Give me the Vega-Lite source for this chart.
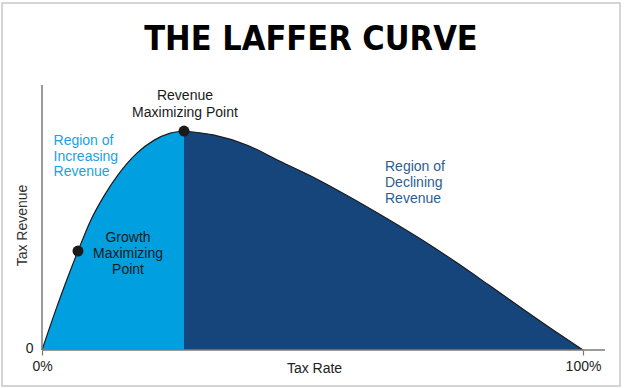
{
  "$schema": "https://vega.github.io/schema/vega-lite/v6.json",
  "width": 618,
  "height": 383,
  "autosize": {"type": "none"},
  "padding": {"left": 2, "top": 3, "right": 4, "bottom": 2},
  "background": "#ffffff",
  "title": {
    "text": "THE LAFFER CURVE",
    "font": "DejaVu Sans Condensed, sans-serif",
    "fontSize": 34,
    "fontWeight": "bold",
    "color": "#000000",
    "anchor": "middle",
    "frame": "group",
    "baseline": "alphabetic",
    "offset": -81
  },
  "config": {
    "view": {"stroke": "#c8c8c8", "strokeWidth": 1.5},
    "font": "Liberation Sans"
  },
  "datasets": {
    "curve": [
      {"rate": 0, "revenue": 0, "region": "Increasing"},
      {"rate": 2.5, "revenue": 18, "region": "Increasing"},
      {"rate": 4.5, "revenue": 31.5, "region": "Increasing"},
      {"rate": 6.65, "revenue": 45.2, "region": "Increasing"},
      {"rate": 8.87, "revenue": 58.5, "region": "Increasing"},
      {"rate": 11.5, "revenue": 70.5, "region": "Increasing"},
      {"rate": 14.05, "revenue": 80.0, "region": "Increasing"},
      {"rate": 17.5, "revenue": 89.8, "region": "Increasing"},
      {"rate": 20.6, "revenue": 95.6, "region": "Increasing"},
      {"rate": 23.7, "revenue": 99.0, "region": "Increasing"},
      {"rate": 26.25, "revenue": 100, "region": "Increasing"},
      {"rate": 26.25, "revenue": 100, "region": "Declining"},
      {"rate": 31.66, "revenue": 98.2, "region": "Declining"},
      {"rate": 37.84, "revenue": 93.6, "region": "Declining"},
      {"rate": 44.0, "revenue": 86.2, "region": "Declining"},
      {"rate": 50.15, "revenue": 78.9, "region": "Declining"},
      {"rate": 56.3, "revenue": 70.7, "region": "Declining"},
      {"rate": 62.5, "revenue": 61.9, "region": "Declining"},
      {"rate": 70.5, "revenue": 49.9, "region": "Declining"},
      {"rate": 76.7, "revenue": 39.8, "region": "Declining"},
      {"rate": 82.8, "revenue": 29.3, "region": "Declining"},
      {"rate": 89.0, "revenue": 18.5, "region": "Declining"},
      {"rate": 95.1, "revenue": 8.1, "region": "Declining"},
      {"rate": 100, "revenue": 0, "region": "Declining"}
    ],
    "points": [
      {"rate": 6.65, "revenue": 45.2, "name": "Growth Maximizing Point"},
      {"rate": 26.25, "revenue": 100, "name": "Revenue Maximizing Point"}
    ],
    "axislines": [
      {"rate": 0, "revenue": 0, "rate2": 104.07, "revenue2": 0},
      {"rate": 0, "revenue": 0, "rate2": 0, "revenue2": 121}
    ]
  },
  "layer": [
    {
      "data": {"name": "curve"},
      "mark": {"type": "area", "interpolate": "monotone"},
      "encoding": {
        "x": {
          "field": "rate",
          "type": "quantitative",
          "scale": {"domain": [-7.394, 106.84], "nice": false, "zero": false},
          "axis": {
            "orient": "bottom",
            "offset": -36,
            "values": [0, 100],
            "labelExpr": "datum.value + '%'",
            "domain": false,
            "grid": false,
            "ticks": true,
            "tickSize": 5,
            "tickColor": "#777777",
            "tickWidth": 1.2,
            "labelFontSize": 14,
            "labelColor": "#222222",
            "labelPadding": 4,
            "labelFlush": false,
            "labelOverlap": false,
            "labelBound": false,
            "title": "Tax Rate",
            "titleFontSize": 14,
            "titleFontWeight": "normal",
            "titleColor": "#222222",
            "titleX": 312,
            "titleY": 22,
            "titleBaseline": "alphabetic",
            "titleAlign": "center"
          }
        },
        "y": {
          "field": "revenue",
          "type": "quantitative",
          "stack": null,
          "scale": {"domain": [-16.44, 158.45], "nice": false, "zero": false},
          "axis": {
            "orient": "left",
            "offset": -40,
            "values": [0],
            "domain": false,
            "grid": false,
            "ticks": false,
            "labelFontSize": 14,
            "labelColor": "#222222",
            "labelPadding": 9,
            "labelOffset": -1,
            "title": "Tax Revenue",
            "titleFontSize": 14,
            "titleFontWeight": "normal",
            "titleColor": "#333333",
            "titleAngle": -90,
            "titleX": -16,
            "titleY": 222,
            "titleBaseline": "alphabetic",
            "titleAlign": "center"
          }
        },
        "color": {
          "field": "region",
          "type": "nominal",
          "scale": {"domain": ["Increasing", "Declining"], "range": ["#009fdf", "#15457a"]},
          "legend": null
        }
      }
    },
    {
      "data": {"name": "curve"},
      "mark": {"type": "line", "interpolate": "monotone", "color": "#1a1a1a", "strokeWidth": 1.2},
      "encoding": {
        "x": {"field": "rate", "type": "quantitative"},
        "y": {"field": "revenue", "type": "quantitative"},
        "detail": {"field": "region"}
      }
    },
    {
      "data": {"name": "axislines"},
      "mark": {"type": "rule", "color": "#7a7a7a", "strokeWidth": 1.5},
      "encoding": {
        "x": {"field": "rate", "type": "quantitative"},
        "y": {"field": "revenue", "type": "quantitative"},
        "x2": {"field": "rate2"},
        "y2": {"field": "revenue2"}
      }
    },
    {
      "data": {"name": "points"},
      "mark": {"type": "circle", "color": "#1a1a1a", "opacity": 1, "size": 120},
      "encoding": {
        "x": {"field": "rate", "type": "quantitative"},
        "y": {"field": "revenue", "type": "quantitative"}
      }
    },
    {
      "data": {"values": [{"rate": 26.43, "revenue": 114.2, "label": "Revenue\nMaximizing Point"}]},
      "mark": {"type": "text", "align": "center", "baseline": "alphabetic", "lineBreak": "\n", "lineHeight": 17, "fontSize": 14, "color": "#1a1a1a"},
      "encoding": {
        "x": {"field": "rate", "type": "quantitative"},
        "y": {"field": "revenue", "type": "quantitative"},
        "text": {"field": "label"}
      }
    },
    {
      "data": {"values": [{"rate": 15.9, "revenue": 49.3, "label": "Growth\nMaximizing\nPoint"}]},
      "mark": {"type": "text", "align": "center", "baseline": "alphabetic", "lineBreak": "\n", "lineHeight": 16, "fontSize": 14, "color": "#1a1a1a"},
      "encoding": {
        "x": {"field": "rate", "type": "quantitative"},
        "y": {"field": "revenue", "type": "quantitative"},
        "text": {"field": "label"}
      }
    },
    {
      "data": {"values": [{"rate": 2.13, "revenue": 93.6, "label": "Region of\nIncreasing\nRevenue"}]},
      "mark": {"type": "text", "align": "left", "baseline": "alphabetic", "lineBreak": "\n", "lineHeight": 15.5, "fontSize": 14, "color": "#1ba1e2"},
      "encoding": {
        "x": {"field": "rate", "type": "quantitative"},
        "y": {"field": "revenue", "type": "quantitative"},
        "text": {"field": "label"}
      }
    },
    {
      "data": {"values": [{"rate": 63.4, "revenue": 81.7, "label": "Region of\nDeclining\nRevenue"}]},
      "mark": {"type": "text", "align": "left", "baseline": "alphabetic", "lineBreak": "\n", "lineHeight": 16, "fontSize": 14, "color": "#2e5c92"},
      "encoding": {
        "x": {"field": "rate", "type": "quantitative"},
        "y": {"field": "revenue", "type": "quantitative"},
        "text": {"field": "label"}
      }
    }
  ]
}
